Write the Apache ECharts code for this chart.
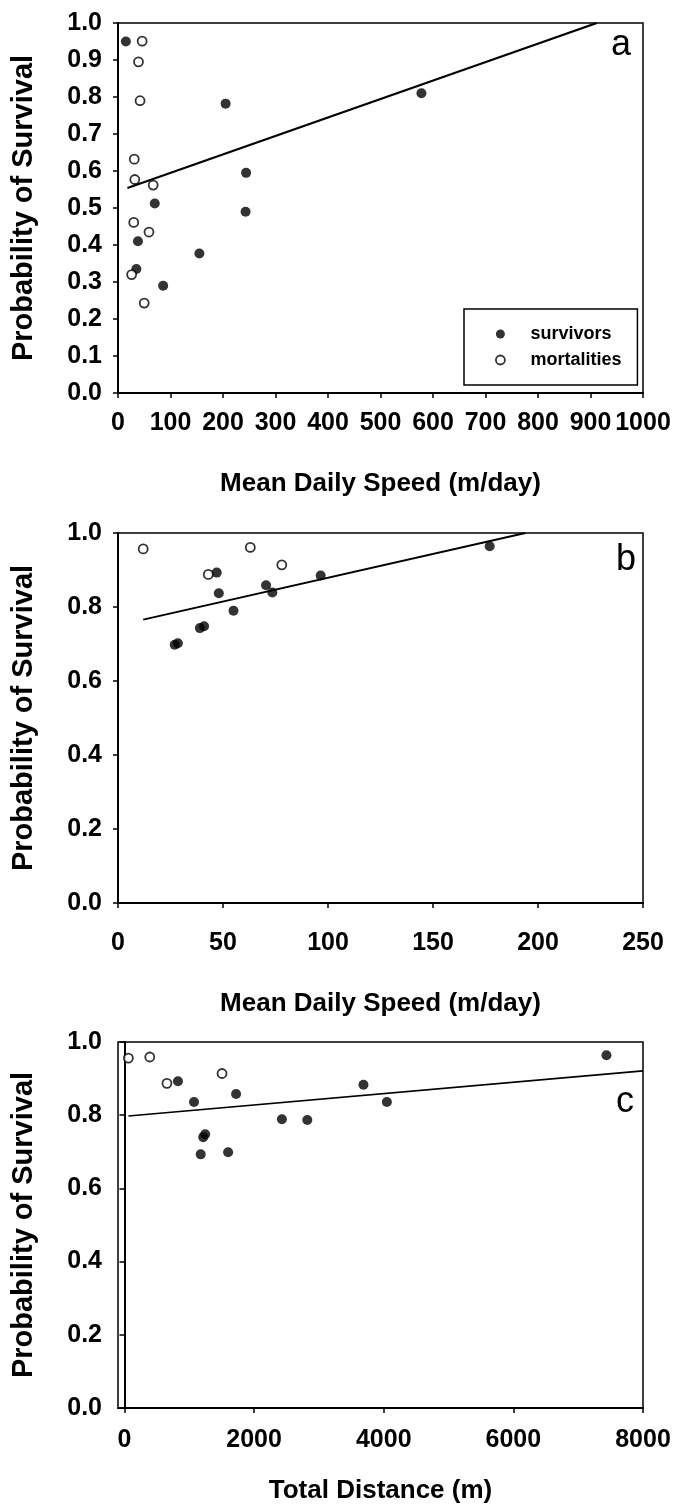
<!DOCTYPE html>
<html><head><meta charset="utf-8">
<script src="https://cdn.jsdelivr.net/npm/echarts@6/dist/echarts.min.js"></script>
<style>html,body{margin:0;padding:0;background:#fff}#c{width:678px;height:1512px}</style>
</head><body><div id="c"></div>
<script>
// Panel a: Mean Daily Speed (m/day), 0-1000
const survivorsA = [[15,0.95],[205,0.782],[244,0.595],[243,0.49],[70,0.512],[38,0.41],[35,0.335],[155,0.377],[86,0.29],[578,0.81]];
const mortalitiesA = [[46,0.951],[39,0.895],[42,0.79],[31,0.632],[32,0.577],[67,0.562],[30,0.461],[59,0.435],[26,0.32],[50,0.243]];
const fitA = [[18,0.554],[912,1.0]];
// Panel b: Mean Daily Speed (m/day), 0-250
const survivorsB = [[47,0.893],[48,0.837],[70.5,0.859],[73.5,0.839],[55,0.79],[39,0.743],[41,0.748],[27,0.698],[28.5,0.702],[96.5,0.885],[177,0.964]];
const mortalitiesB = [[12,0.957],[63,0.961],[78,0.914],[43,0.888]];
const fitB = [[12,0.766],[194,1.0]];
// Panel c: Total Distance (m)
const survivorsC = [[825,0.893],[1073,0.836],[1722,0.858],[1215,0.74],[1245,0.748],[1176,0.693],[1599,0.699],[2429,0.789],[2821,0.787],[3687,0.883],[4048,0.836],[7436,0.964]];
const mortalitiesC = [[60,0.956],[390,0.959],[655,0.887],[1505,0.914]];
const fitC = [[60,0.798],[8000,0.921]];
const ticksC = [0,2000,4000,6000,8000];
const yTitle = 'Probability of Survival';
const xTitles = ['Mean Daily Speed (m/day)','Mean Daily Speed (m/day)','Total Distance (m)'];
const panelLetters = ['a','b','c'];

const FONT = 'Liberation Sans';
const lbl = {color:'#000', fontFamily:FONT, fontWeight:'bold', fontSize:25, showMinLabel:true, showMaxLabel:true};
const axisLine = {show:true, lineStyle:{color:'#000', width:2}};
const axisTick = {show:true, inside:false, length:5, lineStyle:{color:'#000', width:1.5}};

const grids = [
  {left:118, top:23, width:525, height:370},
  {left:118, top:533, width:525, height:370},
  {left:118, top:1042, width:525, height:366}
].map(g => Object.assign(g, {show:true, borderColor:'#000', borderWidth:1.5, backgroundColor:'transparent'}));

function xAxis(i, o){
  return Object.assign({
    type:'value', gridIndex:i, name:xTitles[i], nameLocation:'middle',
    nameTextStyle:{color:'#000', fontFamily:FONT, fontWeight:'bold', fontSize:26},
    axisLine, axisTick, splitLine:{show:false},
    axisLabel:Object.assign({margin:18, formatter:v=>String(v)}, lbl)
  }, o);
}
function yAxis(i, o){
  return Object.assign({
    type:'value', gridIndex:i, min:0, max:1, name:yTitle, nameLocation:'middle', nameGap:80,
    nameTextStyle:{color:'#000', fontFamily:FONT, fontWeight:'bold', fontSize:29},
    axisLine, axisTick, splitLine:{show:false},
    axisLabel:Object.assign({margin:16, formatter:v=>v.toFixed(1)}, lbl)
  }, o);
}

const filled = {color:'#000'};
const open = {color:'#fff', borderColor:'#000', borderWidth:1.8};
function pts(name, data, i, style, size){
  return {type:'scatter', name, data, xAxisIndex:i, yAxisIndex:i, symbol:'circle', symbolSize:size, itemStyle:style, z:3, silent:true};
}
function fit(data, i, w){
  return {type:'line', data, xAxisIndex:i, yAxisIndex:i, symbol:'none', lineStyle:{color:'#000', width:w}, z:2, silent:true};
}

const option = {
  animation:false,
  backgroundColor:'#fff',
  grid:grids,
  xAxis:[
    xAxis(0, {min:0, max:1000, interval:100, nameGap:78}),
    xAxis(1, {min:0, max:250, interval:50, nameGap:88, axisLabel:Object.assign({margin:28, formatter:v=>String(v)}, lbl)}),
    xAxis(2, {min:-100, max:8000, nameGap:70,
      axisTick:Object.assign({customValues:ticksC}, axisTick),
      axisLabel:Object.assign({margin:20, customValues:ticksC, formatter:v=>String(v)}, lbl)})
  ],
  yAxis:[
    yAxis(0, {interval:0.1}),
    yAxis(1, {interval:0.2}),
    yAxis(2, {interval:0.2})
  ],
  legend:{
    show:true, orient:'vertical', left:464, top:309,
    padding:[16,16,16,31], itemGap:8, itemWidth:50, itemHeight:9,
    borderColor:'#000', borderWidth:1.5, backgroundColor:'#fff',
    textStyle:{color:'#000', fontFamily:'Liberation Sans', fontWeight:'bold', fontSize:18},
    data:[
      {name:'survivors', icon:'circle', itemStyle:filled},
      {name:'mortalities', icon:'circle', itemStyle:open}
    ]
  },
  series:[
    fit(fitA,0,2.2), pts('survivors', survivorsA, 0, filled, 10), pts('mortalities', mortalitiesA, 0, open, 9),
    fit(fitB,1,1.8), pts('survivors', survivorsB, 1, filled, 10), pts('mortalities', mortalitiesB, 1, open, 9),
    fit(fitC,2,1.6), pts('survivors', survivorsC, 2, filled, 10), pts('mortalities', mortalitiesC, 2, open, 9)
  ],
  graphic:[
    {type:'text', left:611, top:27, style:{text:panelLetters[0], font:'36px "Liberation Sans"', fill:'#000'}},
    {type:'text', left:616, top:542, style:{text:panelLetters[1], font:'36px "Liberation Sans"', fill:'#000'}},
    {type:'text', left:616, top:1084, style:{text:panelLetters[2], font:'36px "Liberation Sans"', fill:'#000'}}
  ]
};
const chart = echarts.init(document.getElementById('c'), null, {renderer:'canvas'});
chart.setOption(option);
</script></body></html>
